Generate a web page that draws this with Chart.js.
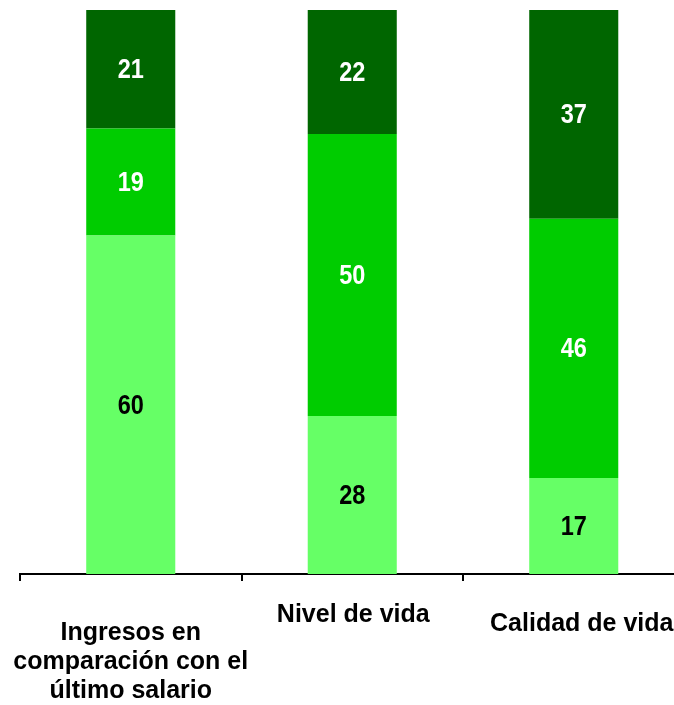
<!DOCTYPE html>
<html lang="es">
<head>
    <meta charset="UTF-8">
    <title>Ingresos, nivel y calidad de vida</title>
    <script src="https://cdn.jsdelivr.net/npm/chart.js"></script>
    <style>
        body, html {
            margin: 0;
            padding: 0;
            overflow: hidden;
            background: #ffffff;
        }
        .wrap {
            width: 700px;
            height: 705px;
        }
    </style>
</head>
<body>
    <div class="wrap">
        <canvas id="chart" width="700" height="705"></canvas>
    </div>

    <script>
    // categorias (eje x) y valores de cada serie, en %
    const categories = [
        ['Ingresos en', 'comparación con el', 'último salario'],
        ['Nivel de vida'],
        ['Calidad de vida']
    ];
    const seriesNames = ['Peor', 'Igual', 'Mejor'];
    const valuesLow = [60, 28, 17];
    const valuesMid = [19, 50, 46];
    const valuesTop = [21, 22, 37];

    const colors = ['#66FF66', '#00CC00', '#006600'];
    const textColors = ['#000000', '#ffffff', '#ffffff'];
    const fontFamily = '"Liberation Sans", Arial, sans-serif';

    // numeros dentro de cada segmento (letra algo estrecha, como en el original)
    const valueLabels = {
        id: 'valueLabels',
        afterDatasetsDraw(chart) {
            const ctx = chart.ctx;
            const sx = 0.84;
            ctx.save();
            ctx.font = 'bold 28px ' + fontFamily;
            ctx.textAlign = 'center';
            ctx.textBaseline = 'middle';
            ctx.scale(sx, 1);
            chart.data.datasets.forEach((ds, i) => {
                const meta = chart.getDatasetMeta(i);
                ctx.fillStyle = textColors[i];
                meta.data.forEach((bar, j) => {
                    ctx.fillText(ds.data[j], bar.x / sx, (bar.y + bar.base) / 2 + 1);
                });
            });
            ctx.restore();
        }
    };

    // etiquetas de categoria bajo el eje (cada una con su propio desplazamiento)
    const shift = [{dx: 0, dy: 59}, {dx: 1, dy: 41}, {dx: 8, dy: 50}];
    const categoryLabels = {
        id: 'categoryLabels',
        afterDraw(chart) {
            const ctx = chart.ctx;
            const xs = chart.scales.x;
            ctx.save();
            ctx.font = 'bold 25px ' + fontFamily;
            ctx.fillStyle = '#000000';
            ctx.textAlign = 'center';
            ctx.textBaseline = 'middle';
            chart.data.labels.forEach((lines, i) => {
                const x = xs.getPixelForValue(i) + shift[i].dx;
                lines.forEach((line, k) => {
                    ctx.fillText(line, x, xs.top + shift[i].dy + k * 29);
                });
            });
            ctx.restore();
        }
    };

    new Chart(document.getElementById('chart'), {
        type: 'bar',
        data: {
            labels: categories,
            datasets: [
                { label: seriesNames[0], data: valuesLow, backgroundColor: colors[0] },
                { label: seriesNames[1], data: valuesMid, backgroundColor: colors[1] },
                { label: seriesNames[2], data: valuesTop, backgroundColor: colors[2] }
            ]
        },
        options: {
            responsive: false,
            animation: false,
            devicePixelRatio: 1,
            categoryPercentage: 1,
            barPercentage: 0.402,
            layout: { padding: { left: 20, right: 15.5, top: 10, bottom: 124 } },
            plugins: {
                legend: { display: false },
                tooltip: { enabled: false }
            },
            scales: {
                x: {
                    stacked: true,
                    grid: {
                        drawOnChartArea: false,
                        drawTicks: true,
                        tickLength: 7,
                        color: '#000000',
                        lineWidth: 2
                    },
                    border: { color: '#000000', width: 2 },
                    ticks: { display: false }
                },
                y: {
                    stacked: true,
                    display: false,
                    min: 0,
                    max: 100
                }
            }
        },
        plugins: [valueLabels, categoryLabels]
    });
    </script>
</body>
</html>
